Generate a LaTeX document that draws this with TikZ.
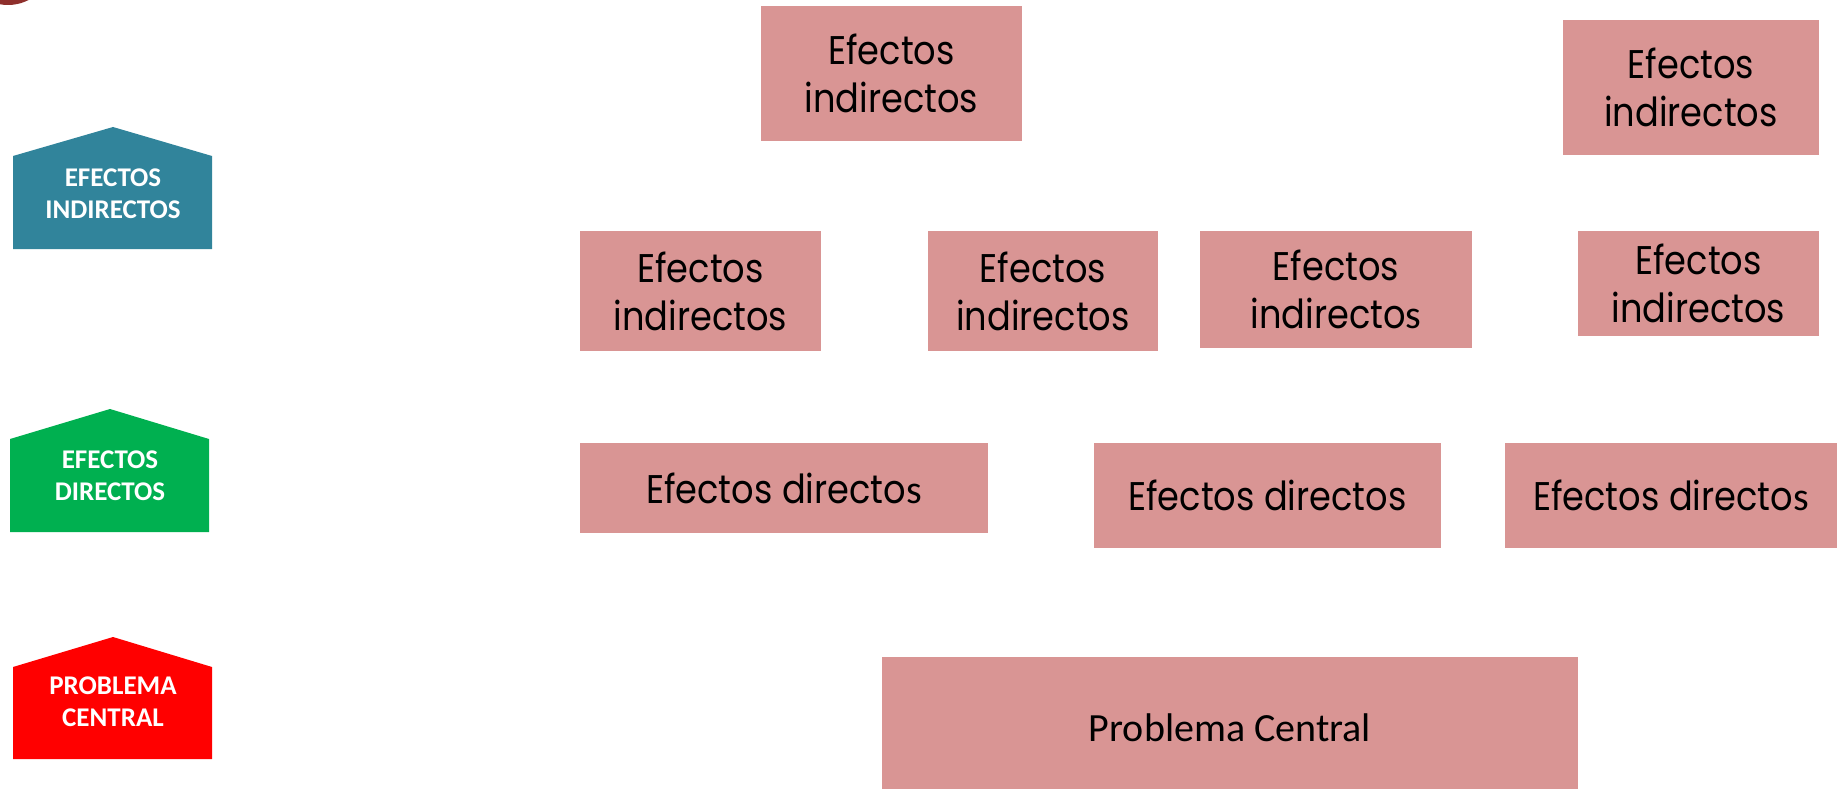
\documentclass[tikz,border=0pt]{standalone}
\usepackage{fontspec}
\setmainfont{Carlito}
\newfontfamily\futfont[FakeStretch=0.88]{Poppins}
\newfontfamily\calfont{Carlito}
\definecolor{boxpink}{HTML}{D99594}
\definecolor{tealc}{HTML}{31849B}
\definecolor{greenc}{HTML}{00B050}
\definecolor{redc}{HTML}{FF0000}
\definecolor{darkred}{HTML}{8E2F2C}
\tikzset{
  ebox/.style={fill=boxpink, draw=none, inner sep=0pt, align=center,
    font=\futfont\fontsize{40}{48}\selectfont},
  pbox/.style={fill=boxpink, draw=none, inner sep=0pt},
  ptext/.style={inner sep=0pt, font=\calfont\fontsize{40}{48}\selectfont},
  tag/.style={text=white, inner sep=0pt, align=center,
    font=\calfont\bfseries\fontsize{27}{32}\selectfont}
}
\begin{document}
\begin{tikzpicture}[x=1pt,y=-1pt]
\useasboundingbox (0,0) rectangle (1837,789);
\begin{scope}
\clip (0,0) rectangle (1837,789);
\fill[darkred] (8,-40) ellipse [x radius=45, y radius=45];
\end{scope}
% level tags
\fill[tealc] (13,249) -- (13,156) -- (113,127) -- (212,156) -- (212,249) -- cycle;
\node[tag] (t1) at (113,194) {EFECTOS\\INDIRECTOS};
\fill[greenc] (10,532) -- (10,439) -- (110,409) -- (209,439) -- (209,532) -- cycle;
\node[tag] (t2) at (110,476) {EFECTOS\\DIRECTOS};
\fill[redc] (13,759) -- (13,667) -- (113,637) -- (212,667) -- (212,759) -- cycle;
\node[tag] (t3) at (113,702) {PROBLEMA\\CENTRAL};
% boxes
\node[ebox, minimum width=261pt, minimum height=135pt] (a) at (891.5,73.5) {Efectos\\indirectos};
\node[ebox, minimum width=256pt, minimum height=135pt] (b) at (1691,87.5) {Efectos\\indirectos};
\node[ebox, minimum width=241pt, minimum height=120pt] (c) at (700.5,291) {Efectos\\indirectos};
\node[ebox, minimum width=230pt, minimum height=120pt] (d) at (1043,291) {Efectos\\indirectos};
\node[ebox, minimum width=272pt, minimum height=117pt] (e) at (1336,289.5) {Efectos\\indirecto{\calfont s}};
\node[ebox, minimum width=241pt, minimum height=105pt] (f) at (1698.5,283.5) {Efectos\\indirectos};
\node[ebox, minimum width=408pt, minimum height=90pt] (g) at (784,488) {Efectos directo{\calfont s}};
\node[ebox, minimum width=347pt, minimum height=105pt] (h) at (1267.5,495.5) {Efectos directos};
\node[ebox, minimum width=332pt, minimum height=105pt] (i) at (1671,495.5) {Efectos directo{\calfont s}};
\node[pbox, minimum width=696pt, minimum height=132pt] (j) at (1230,723) {};
\node[ptext] (jt) at (1230,728) {Problema Central};
\end{tikzpicture}
\end{document}
